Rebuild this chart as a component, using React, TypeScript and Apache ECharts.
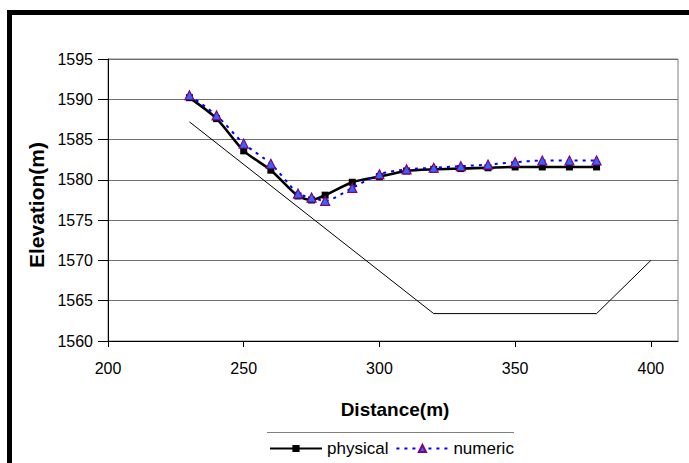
import React, { useEffect, useRef } from "react";
import * as echarts from "echarts";

const distances = [230, 240, 250, 260, 270, 275, 280, 290, 300, 310, 320, 330, 340, 350, 360, 370, 380];
const physical = [1590.2, 1587.6, 1583.6, 1581.2, 1578.0, 1577.5, 1578.1, 1579.7, 1580.4, 1581.1, 1581.3, 1581.4, 1581.5, 1581.6, 1581.6, 1581.6, 1581.6];
const numeric = [1590.5, 1588.0, 1584.5, 1582.0, 1578.3, 1577.8, 1577.4, 1579.0, 1580.7, 1581.3, 1581.5, 1581.7, 1581.9, 1582.2, 1582.4, 1582.4, 1582.4];
const bedX = [230, 320, 380, 400];
const bedY = [1587.2, 1563.4, 1563.4, 1570];
const xTicks = { min: 200, max: 410, interval: 50 };
const yTicks = { min: 1560, max: 1595, interval: 5 };

const FONT = "Arial, 'Liberation Sans', Helvetica, sans-serif";

export default function App() {
  const ref = useRef<HTMLDivElement>(null);
  useEffect(() => {
    if (!ref.current) return;
    const chart = echarts.init(ref.current, null, { renderer: "svg" });
    chart.setOption({
      animation: false,
      backgroundColor: "#ffffff",
      textStyle: { fontFamily: FONT },
      grid: {
        left: 108,
        top: 59,
        right: 11,
        bottom: 122,
        show: true,
        borderColor: "#808080",
        borderWidth: 1,
      },
      xAxis: {
        type: "value",
        min: xTicks.min,
        max: xTicks.max,
        interval: xTicks.interval,
        axisLine: { show: true, lineStyle: { color: "#000", width: 1 } },
        axisTick: { show: true, length: 6, lineStyle: { color: "#000" } },
        axisLabel: {
          color: "#000",
          fontSize: 16,
          fontFamily: FONT,
          margin: 19,
          showMaxLabel: false,
          formatter: (v: number) => String(v),
        },
        splitLine: { show: false },
      },
      yAxis: {
        type: "value",
        min: yTicks.min,
        max: yTicks.max,
        interval: yTicks.interval,
        axisLine: { show: true, lineStyle: { color: "#000", width: 1 } },
        axisTick: { show: true, length: 10, lineStyle: { color: "#000" } },
        axisLabel: {
          color: "#000",
          fontSize: 16,
          fontFamily: FONT,
          margin: 15,
          formatter: (v: number) => String(v),
        },
        splitLine: { show: true, lineStyle: { color: "#6e6e6e", width: 1 } },
      },
      legend: {
        data: ["physical", "numeric"],
        left: 264,
        top: 435,
        itemWidth: 52,
        itemHeight: 9,
        itemGap: 7,
        textStyle: { fontSize: 17, color: "#000", fontFamily: FONT },
      },
      graphic: [
        {
          type: "rect",
          shape: { x: 9.5, y: 12.5, width: 720, height: 520 },
          style: { fill: "none", stroke: "#000", lineWidth: 5 },
          silent: true,
          z: 100,
        },
        {
          type: "line",
          shape: { x1: 267, y1: 432.5, x2: 514, y2: 432.5 },
          style: { stroke: "#808080", lineWidth: 1 },
          silent: true,
        },
        {
          type: "text",
          x: 36,
          y: 205,
          rotation: Math.PI / 2,
          style: {
            text: "Elevation(m)",
            fontSize: 21,
            fontWeight: "bold",
            fontFamily: FONT,
            fill: "#000",
            align: "center",
            verticalAlign: "middle",
          },
        },
        {
          type: "text",
          x: 395,
          y: 409,
          style: {
            text: "Distance(m)",
            fontSize: 19,
            fontWeight: "bold",
            fontFamily: FONT,
            fill: "#000",
            align: "center",
            verticalAlign: "middle",
          },
        },
      ],
      series: [
        {
          name: "bed",
          type: "line",
          data: bedX.map((x, i) => [x, bedY[i]]),
          showSymbol: false,
          symbol: "none",
          lineStyle: { color: "#000", width: 1 },
          z: 1,
        },
        {
          name: "physical",
          type: "line",
          data: distances.map((x, i) => [x, physical[i]]),
          smooth: 0.25,
          symbol: "rect",
          symbolSize: 7,
          itemStyle: { color: "#000", borderWidth: 0 },
          lineStyle: { color: "#000", width: 2.6 },
          z: 2,
        },
        {
          name: "numeric",
          type: "line",
          data: distances.map((x, i) => [x, numeric[i]]),
          smooth: 0.25,
          symbol: "triangle",
          symbolSize: 9,
          itemStyle: { color: "#3366ff", borderColor: "#800080", borderWidth: 1.2 },
          lineStyle: { color: "#0000ff", width: 2, type: [3, 5] },
          z: 3,
        },
      ],
    });
    return () => chart.dispose();
  }, []);
  return (
    <div
      ref={ref}
      style={{ position: "fixed", left: 0, top: 0, width: 689, height: 463 }}
    />
  );
}
